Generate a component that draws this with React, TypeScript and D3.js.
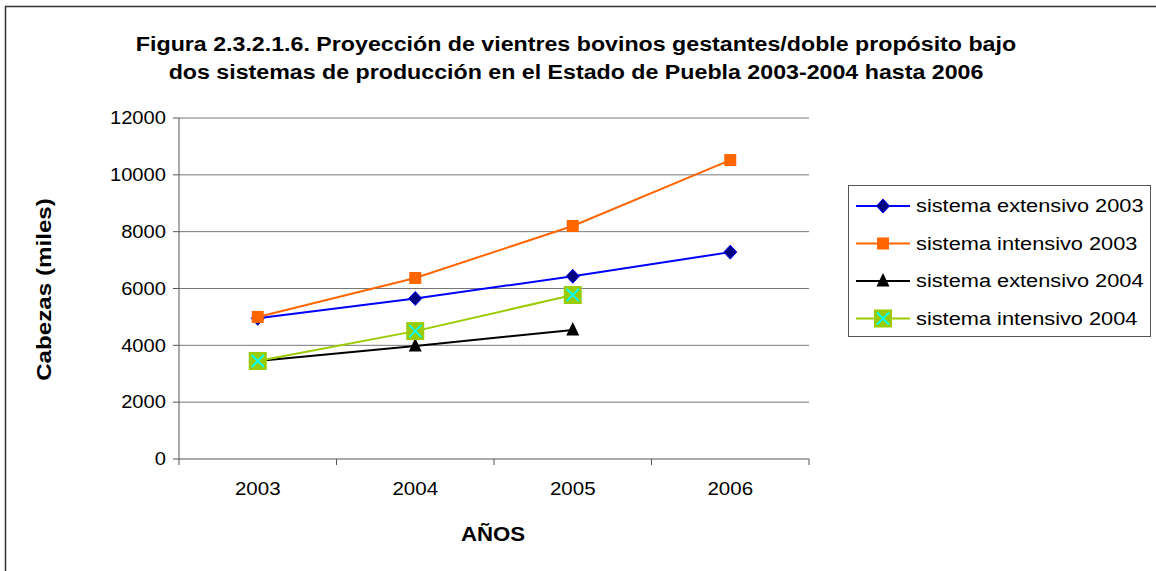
import React from 'react'
import * as d3 from 'd3'

const years = ['2003', '2004', '2005', '2006']
const extensivo2003 = [4950, 5650, 6430, 7280]
const intensivo2003 = [5000, 6370, 8200, 10520]
const extensivo2004 = [3450, 3980, 4540]
const intensivo2004 = [3450, 4500, 5770]
const yTicks = [0, 2000, 4000, 6000, 8000, 10000, 12000]

const seriesNames = [
  'sistema extensivo 2003',
  'sistema intensivo 2003',
  'sistema extensivo 2004',
  'sistema intensivo 2004'
]

const W = 1156
const H = 571
const margin = { left: 179, right: 347, top: 118, bottom: 112 }
const font = '"Liberation Sans", Arial, sans-serif'

const series = [
  { name: seriesNames[0], values: extensivo2003, color: '#0000FF', marker: 'diamond' },
  { name: seriesNames[1], values: intensivo2003, color: '#FF6600', marker: 'square' },
  { name: seriesNames[2], values: extensivo2004, color: '#000000', marker: 'triangle' },
  { name: seriesNames[3], values: intensivo2004, color: '#99CC00', marker: 'xsquare' }
]

// the original text is a bit wider than Liberation Sans, so stretch it sideways
const SText = ({ x, y, rotate = 0, sx = 1.18, size, bold, anchor = 'start', dy, children }: any) => (
  <text
    transform={`translate(${x},${y}) rotate(${rotate}) scale(${sx},1)`}
    textAnchor={anchor}
    fontSize={size}
    fontWeight={bold ? 'bold' : 'normal'}
    dy={dy}
  >
    {children}
  </text>
)

const Marker = ({ type, x, y }: { type: string; x: number; y: number }) => {
  switch (type) {
    case 'diamond':
      return (
        <path
          d={`M${x},${y - 7}L${x + 6.5},${y}L${x},${y + 7}L${x - 6.5},${y}Z`}
          fill="#000080"
          stroke="#0000FF"
          strokeWidth={1}
        />
      )
    case 'square':
      return <rect x={x - 6} y={y - 6} width={12} height={12} fill="#FF6600" />
    case 'triangle':
      return <path d={`M${x},${y - 8}L${x + 6.5},${y + 5.5}L${x - 6.5},${y + 5.5}Z`} fill="#000000" />
    case 'xsquare':
      return (
        <g>
          <rect x={x - 9} y={y - 9} width={18} height={18} fill="#99CC00" />
          <path
            d={`M${x - 6},${y - 6}L${x + 6},${y + 6}M${x + 6},${y - 6}L${x - 6},${y + 6}`}
            stroke="#00FFFF"
            strokeWidth={2}
          />
        </g>
      )
    default:
      return null
  }
}

const App = () => {
  const x = d3
    .scaleBand()
    .domain(years)
    .range([margin.left, W - margin.right])
  const y = d3
    .scaleLinear()
    .domain([0, 12000])
    .range([H - margin.bottom, margin.top])

  const cx = (i: number) => (x(years[i]) as number) + x.bandwidth() / 2
  const line = d3
    .line<number>()
    .x((d, i) => cx(i))
    .y(d => y(d))

  const x0 = margin.left
  const x1 = W - margin.right
  const y0 = H - margin.bottom

  return (
    <svg
      width={W}
      height={H}
      style={{ position: 'absolute', left: 0, top: 0, background: '#fff' }}
      fontFamily={font}
    >
      <rect x={5.5} y={6.5} width={W} height={H} fill="#fff" stroke="#333" strokeWidth={1.5} />

      <SText x={576} y={51} size={19.5} bold anchor="middle" sx={1.19}>
        Figura 2.3.2.1.6. Proyección de vientres bovinos gestantes/doble propósito bajo
      </SText>
      <SText x={576} y={79} size={19.5} bold anchor="middle" sx={1.19}>
        dos sistemas de producción en el Estado de Puebla 2003-2004 hasta 2006
      </SText>

      {yTicks.map(t => (
        <g key={t}>
          {t > 0 && <line x1={x0} x2={x1} y1={y(t)} y2={y(t)} stroke="#777" strokeWidth={1} />}
          <line x1={x0 - 6} x2={x0} y1={y(t)} y2={y(t)} stroke="#555" />
          <SText x={x0 - 13} y={y(t)} dy="0.35em" anchor="end" size={18} sx={1.12}>
            {t}
          </SText>
        </g>
      ))}
      <line x1={x0} x2={x0} y1={margin.top} y2={y0} stroke="#555" />
      <line x1={x0} x2={x1} y1={y0} y2={y0} stroke="#555" />
      {years.map((yr, i) => (
        <g key={yr}>
          <line
            x1={x(yr) as number}
            x2={x(yr) as number}
            y1={y0}
            y2={y0 + 6}
            stroke="#555"
          />
          <SText x={cx(i)} y={y0 + 36} anchor="middle" size={18} sx={1.14}>
            {yr}
          </SText>
        </g>
      ))}
      <line x1={x1} x2={x1} y1={y0} y2={y0 + 6} stroke="#555" />

      <SText x={493} y={541} anchor="middle" size={19.5} bold sx={1.14}>
        AÑOS
      </SText>
      <SText x={51} y={(margin.top + y0) / 2 + 1} rotate={-90} anchor="middle" size={19.5} bold sx={1.24}>
        Cabezas (miles)
      </SText>

      {series.map(s => (
        <g key={s.name}>
          <path d={line(s.values) || ''} fill="none" stroke={s.color} strokeWidth={2} />
          {s.values.map((v, i) => (
            <Marker key={i} type={s.marker} x={cx(i)} y={y(v)} />
          ))}
        </g>
      ))}

      <rect x={848.5} y={185.5} width={302} height={151} fill="#fff" stroke="#555" strokeWidth={1} />
      {series.map((s, i) => {
        const ly = 206 + i * 37.5
        return (
          <g key={s.name}>
            <line x1={856} x2={910} y1={ly} y2={ly} stroke={s.color} strokeWidth={2} />
            <Marker type={s.marker} x={883} y={ly} />
            <SText x={916} y={ly} dy="0.35em" size={18} sx={1.21}>
              {s.name}
            </SText>
          </g>
        )
      })}
    </svg>
  )
}

export default App
